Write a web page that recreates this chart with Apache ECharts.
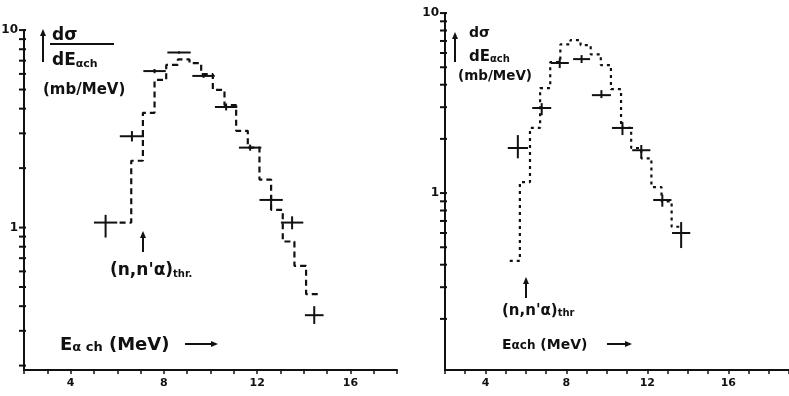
<!DOCTYPE html>
<html><head><meta charset="utf-8">
<script src="https://cdn.jsdelivr.net/npm/echarts@6/dist/echarts.min.js"></script>
<style>html,body{margin:0;padding:0;background:#fff}#c{width:789px;height:396px}</style>
</head><body><div id="c"></div>
<script>
// ---------- Left panel ----------
const leftPtE   = [5.5, 6.63, 7.6, 8.65, 9.7, 10.67, 11.7, 12.6, 13.5, 14.45];
const leftPtV   = [1.06, 2.9, 6.2, 7.7, 5.86, 4.08, 2.54, 1.38, 1.06, 0.36];
const leftPtDE  = [0.5, 0.52, 0.48, 0.5, 0.48, 0.48, 0.48, 0.5, 0.48, 0.4];
const leftPtLo  = [0.89, 2.73, 6.05, 7.6, 5.73, 3.92, 2.45, 1.3, 0.98, 0.325];
const leftPtHi  = [1.16, 3.08, 6.35, 7.8, 6.0, 4.25, 2.63, 1.46, 1.14, 0.40];
const leftHistEdges = [6.1, 6.6, 7.1, 7.6, 8.1, 8.6, 9.1, 9.6, 10.1, 10.6, 11.1, 11.6, 12.1, 12.6, 13.1, 13.6, 14.1, 14.6];
const leftHistVals  = [1.06, 2.18, 3.81, 5.59, 6.66, 7.1, 6.8, 5.98, 4.98, 4.17, 3.09, 2.54, 1.75, 1.23, 0.85, 0.64, 0.46];

// ---------- Right panel ----------
const rightPtE  = [5.6, 6.78, 7.67, 8.75, 9.73, 10.77, 11.7, 12.74, 13.67];
const rightPtV  = [1.78, 2.97, 5.28, 5.55, 3.5, 2.3, 1.73, 0.915, 0.6];
const rightPtDE = [0.5, 0.47, 0.45, 0.42, 0.47, 0.52, 0.45, 0.45, 0.45];
const rightPtLo = [1.56, 2.71, 4.95, 5.28, 3.37, 2.1, 1.58, 0.84, 0.495];
const rightPtHi = [2.1, 3.16, 5.6, 5.84, 3.73, 2.48, 1.85, 0.98, 0.69];
const rightHistEdges = [5.2, 5.7, 6.2, 6.7, 7.2, 7.7, 8.2, 8.7, 9.2, 9.7, 10.2, 10.7, 11.2, 11.7, 12.2, 12.7, 13.2, 13.7];
const rightHistVals  = [0.42, 1.15, 2.3, 3.83, 5.34, 6.7, 7.08, 6.63, 5.9, 5.14, 3.78, 2.3, 1.78, 1.56, 1.08, 0.9, 0.65];

// ---------- Axes ticks / labels ----------
const xTickLabels = [4, 8, 12, 16];
const yTickVals  = [0.2,0.3,0.4,0.5,0.6,0.7,0.8,0.9,1,2,3,4,5,6,7,8,9,10];
const yLabelVals = [1, 10];

const INK = '#111';
const FONT = 'DejaVu Sans';

function histData(edges, vals){
  const d = [];
  for (let i = 0; i < vals.length; i++) d.push([edges[i], vals[i]]);
  d.push([edges[edges.length-1], vals[vals.length-1]]);
  return d;
}
function ptData(E, V, dE, lo, hi){ return E.map((e,i)=>[e, V[i], dE[i], lo[i], hi[i]]); }
function renderCross(params, api){
  const e=api.value(0), v=api.value(1), dx=api.value(2), lo=api.value(3), hi=api.value(4);
  const a=api.coord([e-dx,v]), b=api.coord([e+dx,v]), c=api.coord([e,lo]), d=api.coord([e,hi]);
  const st={stroke:INK, lineWidth:2};
  return {type:'group', children:[
    {type:'line', shape:{x1:a[0],y1:a[1],x2:b[0],y2:b[1]}, style:st},
    {type:'line', shape:{x1:c[0],y1:c[1],x2:d[0],y2:d[1]}, style:st}
  ]};
}
function renderYTick(params, api){
  const p = api.coord([api.value(0), api.value(1)]);
  return {type:'line', shape:{x1:p[0]-5, y1:p[1], x2:p[0]+2, y2:p[1]}, style:{stroke:INK, lineWidth:2}};
}
function xAx(gi, max){
  return {type:'value', gridIndex:gi, min:2, max:max, interval:1,
    axisLine:{show:true, onZero:false, lineStyle:{color:INK, width:2}},
    axisTick:{show:true, length:4, lineStyle:{color:INK, width:1.5}},
    axisLabel:{color:INK, fontFamily:FONT, fontWeight:'bold', fontSize:11, margin:8,
      formatter:v=> xTickLabels.indexOf(v) >= 0 ? String(v) : ''},
    splitLine:{show:false}};
}
function yAx(gi, min){
  return {type:'log', logBase:10, gridIndex:gi, min:min, max:10.01,
    axisLine:{show:true, lineStyle:{color:INK, width:2}},
    axisTick:{show:false},
    axisLabel:{customValues:yLabelVals, color:INK, fontFamily:FONT, fontWeight:'bold', fontSize:12, margin:6,
      formatter:v=>String(Math.round(v))},
    splitLine:{show:false}, minorTick:{show:false}};
}
function arrowUp(x, y1, y2){
  return [
    {type:'line', shape:{x1:x,y1:y1,x2:x,y2:y2+4}, style:{stroke:INK, lineWidth:2}},
    {type:'polygon', shape:{points:[[x-3,y2+5],[x+3,y2+5],[x,y2-2]]}, style:{fill:INK}}
  ];
}
function arrowRight(x1, x2, y){
  return [
    {type:'line', shape:{x1:x1,y1:y,x2:x2-4,y2:y}, style:{stroke:INK, lineWidth:2}},
    {type:'polygon', shape:{points:[[x2-6,y-3],[x2-6,y+3],[x2+1,y]]}, style:{fill:INK}}
  ];
}
function txt(x, y, text, rich, font){
  return {type:'text', x:x, y:y, style:{text:text, fill:INK, font:font||('bold 15px '+FONT), verticalAlign:'middle', align:'left', rich:rich}};
}
const big = s => ({fontFamily:FONT, fontWeight:'bold', fontSize:s, fill:INK, verticalAlign:'bottom'});

const chart = echarts.init(document.getElementById('c'));
chart.setOption({
  backgroundColor:'#fff',
  animation:false,
  grid:[
    {left:24, top:30, width:373, height:340, outerBoundsMode:'none'},
    {left:445, top:13, width:344, height:357, outerBoundsMode:'none'}
  ],
  xAxis:[xAx(0, 18), xAx(1, 19)],
  yAxis:[yAx(0, 0.19), yAx(1, 0.104)],
  series:[
    {type:'custom', xAxisIndex:0, yAxisIndex:0, renderItem:renderYTick, clip:false, z:5, encode:{x:0,y:1},
      data:yTickVals.filter(v=>v>=0.19).map(v=>[2, v])},
    {type:'custom', xAxisIndex:1, yAxisIndex:1, renderItem:renderYTick, clip:false, z:5, encode:{x:0,y:1},
      data:yTickVals.map(v=>[2, v])},
    {type:'line', xAxisIndex:0, yAxisIndex:0, step:'end', showSymbol:false, data:histData(leftHistEdges,leftHistVals),
      lineStyle:{color:INK, width:2.2, type:[6,4]}},
    {type:'custom', xAxisIndex:0, yAxisIndex:0, renderItem:renderCross, encode:{x:0,y:1}, data:ptData(leftPtE,leftPtV,leftPtDE,leftPtLo,leftPtHi)},
    {type:'line', xAxisIndex:1, yAxisIndex:1, step:'end', showSymbol:false, data:histData(rightHistEdges,rightHistVals),
      lineStyle:{color:INK, width:2.2, type:[3,4]}},
    {type:'custom', xAxisIndex:1, yAxisIndex:1, renderItem:renderCross, encode:{x:0,y:1}, data:ptData(rightPtE,rightPtV,rightPtDE,rightPtLo,rightPtHi)}
  ],
  graphic:[
    // left y label
    ...arrowUp(43, 62, 31),
    txt(52, 36, 'dσ', null, 'bold 17px '+FONT),
    {type:'line', shape:{x1:50,y1:44,x2:114,y2:44}, style:{stroke:INK, lineWidth:2}},
    txt(52, 61, '{a|dE}{b|αch}', {a:big(17), b:big(11)}),
    txt(43, 90, '(mb/MeV)', null, 'bold 15px '+FONT),
    // left threshold
    ...arrowUp(143, 252, 233),
    txt(110, 271, '{a|(n,n\'α)}{b|thr.}', {a:big(17), b:big(10)}),
    txt(60, 345, '{a|E}{b|α ch}{a| (MeV)}', {a:big(18), b:big(13)}),
    ...arrowRight(185, 217, 344),
    // right y label
    ...arrowUp(455, 62, 34),
    txt(469, 33, 'dσ', null, 'bold 14px '+FONT),
    txt(469, 57, '{a|dE}{b|αch}', {a:big(15), b:big(10)}),
    txt(458, 76, '(mb/MeV)', null, 'bold 13.5px '+FONT),
    // right threshold
    ...arrowUp(526, 298, 279),
    txt(502, 311, '{a|(n,n\'α)}{b|thr}', {a:big(15), b:big(10)}),
    txt(502, 345, '{a|E}{b|αch}{a| (MeV)}', {a:big(14), b:big(12)}),
    ...arrowRight(607, 631, 344)
  ]
});
</script>
</body></html>
